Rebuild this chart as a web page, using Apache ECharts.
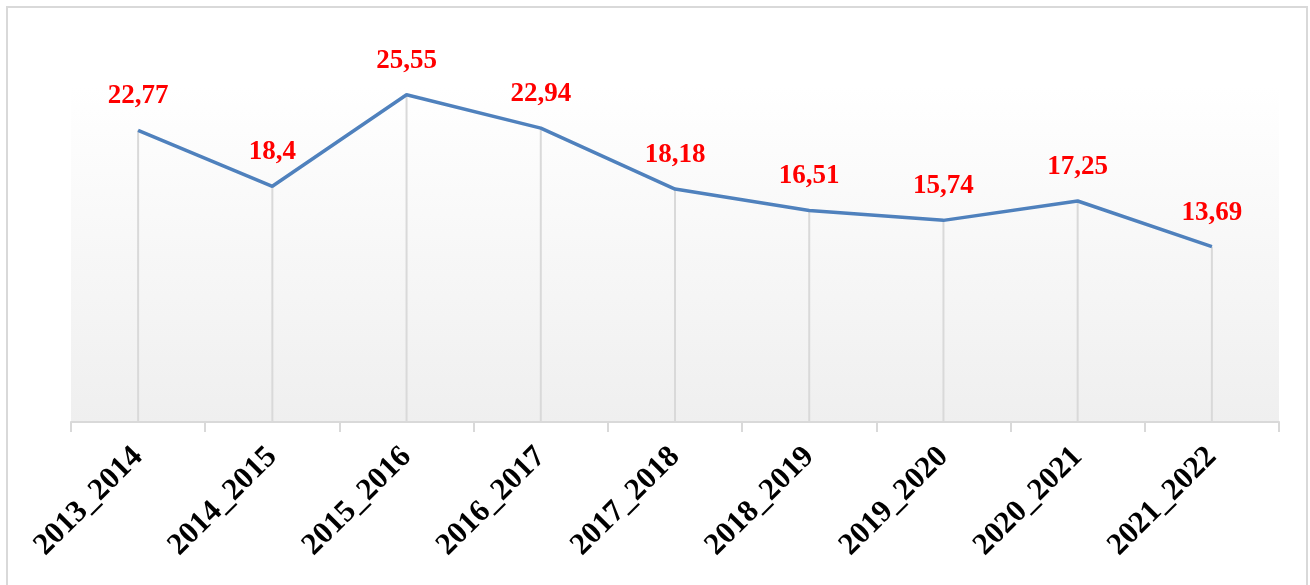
<!DOCTYPE html>
<html>
<head>
<meta charset="utf-8">
<script src="https://cdn.jsdelivr.net/npm/echarts@6/dist/echarts.min.js"></script>
<style>
  html, body { margin: 0; padding: 0; background: #fff; }
  #chart { width: 1310px; height: 585px; }
</style>
</head>
<body>
<div id="chart"></div>
<script>
var years = ['2013_2014', '2014_2015', '2015_2016', '2016_2017', '2017_2018',
             '2018_2019', '2019_2020', '2020_2021', '2021_2022'];
var values = [22.77, 18.4, 25.55, 22.94, 18.18, 16.51, 15.74, 17.25, 13.69];

var chart = echarts.init(document.getElementById('chart'));

var option = {
    animation: false,
    graphic: [{
        type: 'rect',
        shape: { x: 7, y: 7, width: 1300, height: 600 },
        style: { fill: 'none', stroke: '#d9d9d9', lineWidth: 2 },
        z: -10
    }],
    grid: {
        left: 71, right: 31, top: 87, bottom: 163,
        show: true,
        borderWidth: 0,
        backgroundColor: new echarts.graphic.LinearGradient(0, 0, 0, 1, [
            { offset: 0, color: '#ffffff' },
            { offset: 1, color: '#efefef' }
        ])
    },
    xAxis: {
        type: 'category',
        data: years,
        boundaryGap: true,
        axisLine: { lineStyle: { color: '#d9d9d9', width: 2 } },
        axisTick: { show: true, length: 10, lineStyle: { color: '#d9d9d9', width: 2 } },
        axisLabel: {
            rotate: 45,
            margin: 30,
            interval: 0,
            color: '#000',
            fontFamily: '"Liberation Serif", "Times New Roman", serif',
            fontWeight: 'bold',
            fontSize: 31
        },
        splitLine: { show: false }
    },
    yAxis: {
        type: 'value',
        min: 0,
        max: 26.15,
        show: false,
        splitLine: { show: false }
    },
    series: [{
        // vertical drop lines from each point to the axis
        type: 'bar',
        data: values,
        barWidth: 2,
        silent: true,
        itemStyle: { color: '#d9d9d9' },
        z: 1
    }, {
        type: 'line',
        data: values,
        symbol: 'circle',
        symbolSize: 1,
        showSymbol: true,
        itemStyle: { color: 'rgba(0,0,0,0)' },
        z: 3,
        lineStyle: { color: '#4f81bd', width: 3.5 },
        label: {
            show: true,
            position: 'top',
            distance: 20,
            color: '#ff0000',
            fontFamily: '"Liberation Serif", "Times New Roman", serif',
            fontWeight: 'bold',
            fontSize: 27,
            formatter: function (p) {
                return String(p.value).replace('.', ',');
            }
        }
    }]
};

chart.setOption(option);
</script>
</body>
</html>
